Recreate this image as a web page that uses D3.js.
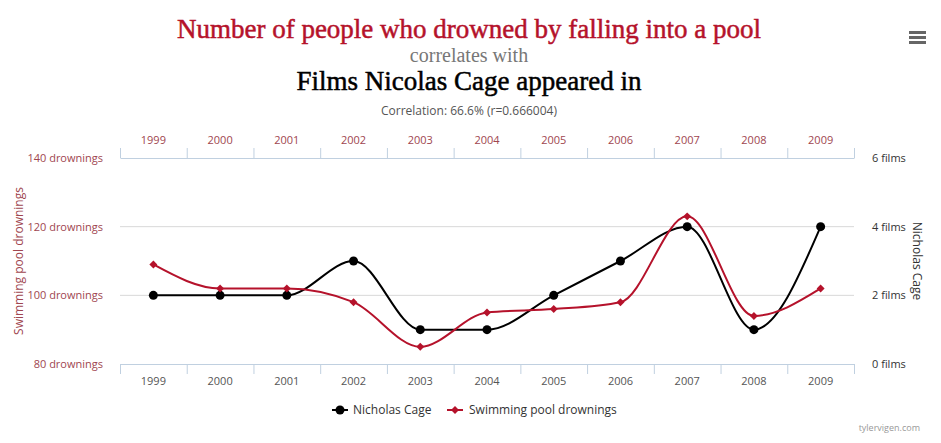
<!DOCTYPE html>
<html>
<head>
<meta charset="utf-8">
<script src="https://cdn.jsdelivr.net/npm/d3@7"></script>
<style>
  body { margin: 0; background: #fff; }
  svg text { font-family: "Open Sans", sans-serif; }
</style>
</head>
<body>
<svg id="chart" width="941" height="443"></svg>
<script>
var years = ["1999", "2000", "2001", "2002", "2003", "2004", "2005", "2006", "2007", "2008", "2009"];
var drownings = [109, 102, 102, 98, 85, 95, 96, 98, 123, 94, 102];
var cageFilms = [2, 2, 2, 3, 1, 1, 2, 3, 4, 1, 4];
var drowningTicks = [80, 100, 120, 140];
var filmTicks = [0, 2, 4, 6];

var red = "#b5122b";
var svg = d3.select("#chart");

var plotLeft = 120, plotRight = 854, plotTop = 158, plotBottom = 364;

var x = d3.scaleBand().domain(years).range([plotLeft, plotRight]);
var yL = d3.scaleLinear().domain([80, 140]).range([plotBottom, plotTop]);
var yR = d3.scaleLinear().domain([0, 6]).range([plotBottom, plotTop]);

// titles
svg.append("text").attr("x", 469).attr("y", 38).attr("text-anchor", "middle")
  .style("font-family", "Liberation Serif, serif").style("font-size", "27px")
  .attr("fill", red).attr("stroke", red).attr("stroke-width", 0.5)
  .text("Number of people who drowned by falling into a pool");
svg.append("text").attr("x", 469).attr("y", 62).attr("text-anchor", "middle")
  .style("font-family", "Liberation Serif, serif").style("font-size", "20px")
  .attr("fill", "#777").text("correlates with");
svg.append("text").attr("x", 469).attr("y", 90).attr("text-anchor", "middle")
  .style("font-family", "Liberation Serif, serif").style("font-size", "27px")
  .attr("fill", "#000").attr("stroke", "#000").attr("stroke-width", 0.5)
  .text("Films Nicolas Cage appeared in");
svg.append("text").attr("x", 469).attr("y", 115).attr("text-anchor", "middle")
  .style("font-size", "12px").attr("fill", "#555").text("Correlation: 66.6% (r=0.666004)");

// gridlines
svg.append("g").selectAll("line").data([100, 120]).enter().append("line")
  .attr("x1", plotLeft).attr("x2", plotRight)
  .attr("y1", function(d) { return yL(d); }).attr("y2", function(d) { return yL(d); })
  .attr("stroke", "#d8d8d8").attr("stroke-width", 1);

// top and bottom axes
var gTop = svg.append("g").attr("transform", "translate(0," + plotTop + ")")
  .call(d3.axisTop(x).tickSize(0).tickPadding(14));
var gBot = svg.append("g").attr("transform", "translate(0," + plotBottom + ")")
  .call(d3.axisBottom(x).tickSize(0).tickPadding(13));
[gTop, gBot].forEach(function(g) {
  g.select(".domain").attr("stroke", "#c0d0e0");
  g.selectAll("text").style("font-family", "Open Sans, sans-serif").style("font-size", "11px");
});
gTop.selectAll("text").attr("fill", "#a0464f");
gBot.selectAll("text").attr("fill", "#555");

// band boundary ticks
var bounds = years.map(function(d) { return x(d); }).concat([plotRight]);
svg.append("g").selectAll("line").data(bounds).enter().append("line")
  .attr("x1", function(d) { return d + 0.5; }).attr("x2", function(d) { return d + 0.5; })
  .attr("y1", plotTop - 10).attr("y2", plotTop).attr("stroke", "#c0d0e0");
svg.append("g").selectAll("line").data(bounds).enter().append("line")
  .attr("x1", function(d) { return d + 0.5; }).attr("x2", function(d) { return d + 0.5; })
  .attr("y1", plotBottom).attr("y2", plotBottom + 10).attr("stroke", "#c0d0e0");

// left axis
var gL = svg.append("g").attr("transform", "translate(" + (plotLeft - 14) + ",0)")
  .call(d3.axisLeft(yL).tickValues(drowningTicks).tickSize(0)
    .tickFormat(function(d) { return d + " drownings"; }));
gL.select(".domain").remove();
gL.selectAll("text").style("font-family", "Open Sans, sans-serif").style("font-size", "11px").attr("fill", "#a0464f");

// right axis
var gR = svg.append("g").attr("transform", "translate(" + (plotRight + 15) + ",0)")
  .call(d3.axisRight(yR).tickValues(filmTicks).tickSize(0)
    .tickFormat(function(d) { return d + " films"; }));
gR.select(".domain").remove();
gR.selectAll("text").style("font-family", "Open Sans, sans-serif").style("font-size", "11px").attr("fill", "#333");

// axis titles
svg.append("text").attr("transform", "translate(23," + ((plotTop + plotBottom) / 2) + ") rotate(-90)")
  .attr("text-anchor", "middle").style("font-size", "12px").attr("fill", "#a0464f")
  .text("Swimming pool drownings");
svg.append("text").attr("transform", "translate(913," + ((plotTop + plotBottom) / 2) + ") rotate(90)")
  .attr("text-anchor", "middle").style("font-size", "12px").attr("fill", "#333")
  .text("Nicholas Cage");

var cx = function(i) { return x(years[i]) + x.bandwidth() / 2; };

// Nicolas Cage line
var cageLine = d3.line().x(function(d, i) { return cx(i); }).y(function(d) { return yR(d); })
  .curve(d3.curveMonotoneX);
svg.append("path").datum(cageFilms).attr("d", cageLine)
  .attr("fill", "none").attr("stroke", "#000").attr("stroke-width", 2);

// drownings line
var drownLine = d3.line().x(function(d, i) { return cx(i); }).y(function(d) { return yL(d); })
  .curve(d3.curveMonotoneX);
svg.append("path").datum(drownings).attr("d", drownLine)
  .attr("fill", "none").attr("stroke", red).attr("stroke-width", 2);

// markers
svg.append("g").selectAll("circle").data(cageFilms).enter().append("circle")
  .attr("cx", function(d, i) { return cx(i); }).attr("cy", function(d) { return yR(d); })
  .attr("r", 4.5).attr("fill", "#000");
var diamond = d3.symbol().type(d3.symbolDiamond2).size(40);
svg.append("g").selectAll("path").data(drownings).enter().append("path")
  .attr("d", diamond)
  .attr("transform", function(d, i) { return "translate(" + cx(i) + "," + yL(d) + ")"; })
  .attr("fill", red);

// legend
var legend = svg.append("g").attr("transform", "translate(0,410)");
legend.append("line").attr("x1", 332).attr("x2", 348).attr("y1", 0).attr("y2", 0)
  .attr("stroke", "#000").attr("stroke-width", 2);
legend.append("circle").attr("cx", 340).attr("cy", 0).attr("r", 4.5).attr("fill", "#000");
legend.append("text").attr("x", 353).attr("y", 4).style("font-size", "12px").attr("fill", "#333")
  .text("Nicholas Cage");
legend.append("line").attr("x1", 447).attr("x2", 463).attr("y1", 0).attr("y2", 0)
  .attr("stroke", red).attr("stroke-width", 2);
legend.append("path").attr("d", diamond).attr("transform", "translate(455,0)").attr("fill", red);
legend.append("text").attr("x", 469).attr("y", 4).style("font-size", "12px").attr("fill", "#333")
  .text("Swimming pool drownings");

// credit
svg.append("text").attr("x", 920).attr("y", 431).attr("text-anchor", "end")
  .style("font-size", "9px").attr("fill", "#999").text("tylervigen.com");

// menu icon
svg.append("g").selectAll("rect").data([0, 1, 2]).enter().append("rect")
  .attr("x", 909).attr("y", function(d) { return 31 + d * 5; })
  .attr("width", 17).attr("height", 3).attr("fill", "#666");
</script>
</body>
</html>
